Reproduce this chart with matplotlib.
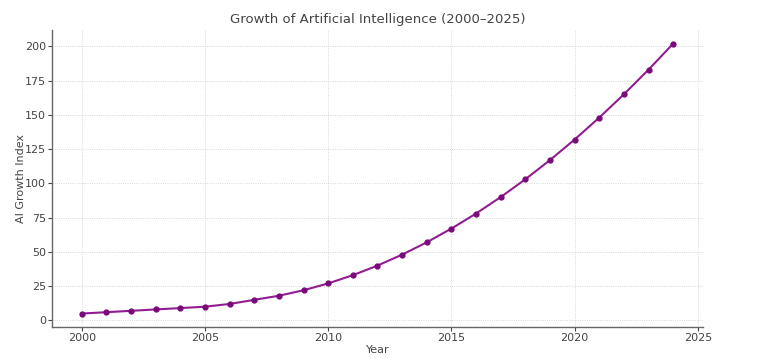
import matplotlib
matplotlib.use("Agg")
import matplotlib.pyplot as plt

# AI growth index by year
years = list(range(2000, 2025))
ai_index = [5, 6, 7, 8, 9, 10, 12, 15, 18, 22, 27, 33, 40, 48, 57,
            67, 78, 90, 103, 117, 132, 148, 165, 183, 202]

text_col = '#444444'

fig = plt.figure(figsize=(7.68, 3.59), dpi=100)
ax = fig.add_axes([0.068, 0.089, 0.847, 0.827])

ax.plot(years, ai_index, color='#921c92', marker='o', markersize=3.5,
        markerfacecolor='#7a0a7a', markeredgecolor='#7a0a7a', linewidth=1.5)

ax.set_title("Growth of Artificial Intelligence (2000\u20132025)", fontsize=9.5, color=text_col, pad=5)
ax.set_xlabel("Year", fontsize=8, color=text_col, labelpad=1)
ax.set_ylabel("AI Growth Index", fontsize=8, color=text_col, labelpad=-1)

ax.set_xticks([2000, 2005, 2010, 2015, 2020, 2025])
ax.set_yticks([0, 25, 50, 75, 100, 125, 150, 175, 200])
ax.tick_params(labelsize=8, colors=text_col, length=3, width=0.8, pad=1.5)

ax.grid(True, linestyle=':', linewidth=0.6, color='#cccccc')
for side in ['top', 'right']:
    ax.spines[side].set_visible(False)
for side in ['left', 'bottom']:
    ax.spines[side].set_color('#666666')
    ax.spines[side].set_linewidth(1.0)

fig.savefig("out.png", dpi=100)
